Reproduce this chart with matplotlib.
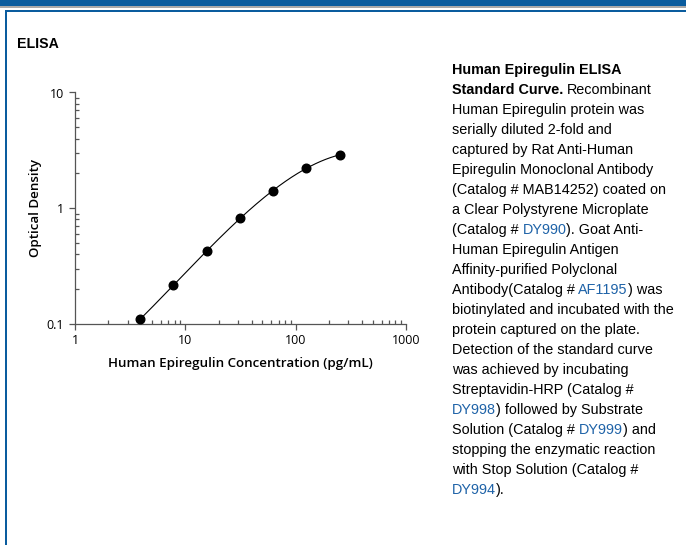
import numpy as np
import matplotlib
matplotlib.use("Agg")
import matplotlib.pyplot as plt
from matplotlib.patches import Rectangle

# ---- data ----
concentration = [3.9, 7.8, 15.6, 31.25, 62.5, 125, 250]          # pg/mL
optical_density = [0.110, 0.217, 0.425, 0.819, 1.42, 2.22, 2.89]
x_ticks = [1, 10, 100, 1000]
x_tick_labels = ["1", "10", "100", "1000"]
y_ticks = [0.1, 1, 10]
y_tick_labels = ["0.1", "1", "10"]
x_label = "Human Epiregulin Concentration (pg/mL)"
y_label = "Optical Density"
section_title = "ELISA"

BLUE_LINK = "#1f63a8"
caption_lines = [
    [("Human Epiregulin ELISA", "black", "bold")],
    [("Standard Curve.", "black", "bold"), (" Recombinant", "black", "normal")],
    [("Human Epiregulin protein was", "black", "normal")],
    [("serially diluted 2-fold and", "black", "normal")],
    [("captured by Rat Anti-Human", "black", "normal")],
    [("Epiregulin Monoclonal Antibody", "black", "normal")],
    [("(Catalog # MAB14252) coated on", "black", "normal")],
    [("a Clear Polystyrene Microplate", "black", "normal")],
    [("(Catalog # ", "black", "normal"), ("DY990", BLUE_LINK, "normal"), ("). Goat Anti-", "black", "normal")],
    [("Human Epiregulin Antigen", "black", "normal")],
    [("Affinity-purified Polyclonal", "black", "normal")],
    [("Antibody(Catalog # ", "black", "normal"), ("AF1195", BLUE_LINK, "normal"), (") was", "black", "normal")],
    [("biotinylated and incubated with the", "black", "normal")],
    [("protein captured on the plate.", "black", "normal")],
    [("Detection of the standard curve", "black", "normal")],
    [("was achieved by incubating", "black", "normal")],
    [("Streptavidin-HRP (Catalog #", "black", "normal")],
    [("DY998", BLUE_LINK, "normal"), (") followed by Substrate", "black", "normal")],
    [("Solution (Catalog # ", "black", "normal"), ("DY999", BLUE_LINK, "normal"), (") and", "black", "normal")],
    [("stopping the enzymatic reaction", "black", "normal")],
    [("with Stop Solution (Catalog #", "black", "normal")],
    [("DY994", BLUE_LINK, "normal"), (").", "black", "normal")],
]

W, H = 686, 545
DPI = 100
fig = plt.figure(figsize=(W / DPI, H / DPI), dpi=DPI)
fig.patch.set_facecolor("white")

def px_rect(x, y, w, h, color):
    fig.add_artist(Rectangle((x / W, 1 - (y + h) / H), w / W, h / H,
                             transform=fig.transFigure, facecolor=color,
                             edgecolor="none", zorder=0))

HEADER_BLUE = "#0a5c9e"
px_rect(0, 0, W, 6, HEADER_BLUE)
px_rect(0, 6, W, 2, "#a9a9a9")
px_rect(5, 10, W - 5, 2, HEADER_BLUE)
px_rect(5, 10, 2, H - 10, HEADER_BLUE)

def fx(x):
    return x / W

def fy(y):
    return 1 - y / H

fig.text(fx(17), fy(48), section_title, fontsize=10.2, fontweight="bold",
         family="Liberation Sans", ha="left", va="baseline")

# ---- chart ----
ax_left, ax_right, ax_top, ax_bottom = 75, 406, 92.5, 324
ax = fig.add_axes([fx(ax_left), fy(ax_bottom), (ax_right - ax_left) / W,
                   (ax_bottom - ax_top) / H])
ax.set_xscale("log")
ax.set_yscale("log")
ax.set_xlim(1, 1000)
ax.set_ylim(0.1, 10)

lx = np.log10(concentration)
ly = np.log10(optical_density)
coef = np.polyfit(lx, ly, 3)
xs = np.linspace(lx[0], lx[-1], 200)
ax.plot(10 ** xs, 10 ** np.polyval(coef, xs), color="black", lw=0.8, zorder=2)
ax.plot(concentration, optical_density, "o", color="black", ms=6.2, zorder=3,
        clip_on=False)

for s in ["top", "right"]:
    ax.spines[s].set_visible(False)
for s in ["left", "bottom"]:
    ax.spines[s].set_color("#555555")
    ax.spines[s].set_linewidth(0.9)

tick_font = "Open Sans"
ax.set_xticks(x_ticks)
ax.set_xticklabels(x_tick_labels, family=tick_font, fontsize=9)
ax.set_yticks(y_ticks)
ax.set_yticklabels(y_tick_labels, family=tick_font, fontsize=9)
ax.tick_params(which="major", direction="out", length=4, width=0.9,
               color="#555555", pad=4)
ax.tick_params(axis="x", which="major", pad=3)
ax.tick_params(which="minor", direction="in", length=3, width=0.9,
               color="#555555")
ax.minorticks_on()
ax.patch.set_alpha(0)

fig.text(fx(240.5), fy(363.5), x_label, family="Open Sans", fontweight="semibold",
         fontsize=9.6, ha="center", va="center")
fig.text(fx(36), fy(208), y_label, family="Open Sans", fontweight="semibold",
         fontsize=9.6, ha="center", va="center", rotation=90)

# ---- caption ----
renderer = fig.canvas.get_renderer()
CAP_FONT = "Liberation Sans"
CAP_SIZE = 10.4

def text_width(s, weight):
    t = fig.text(0, 0, s, family=CAP_FONT, fontsize=CAP_SIZE, fontweight=weight)
    w = t.get_window_extent(renderer).width
    t.remove()
    return w

def cap_text(x, y, s, weight, color, ha):
    fig.text(fx(x), fy(y), s, family=CAP_FONT, fontsize=CAP_SIZE,
             fontweight=weight, color=color, ha=ha, va="baseline")

x0 = 452
base0 = 74
spacing = 20
for i, segs in enumerate(caption_lines):
    y = base0 + spacing * i
    weights = {w for _, _, w in segs}
    if len(weights) > 1:
        bold_txt, _, _ = segs[0]
        reg_txt = segs[1][0].lstrip(" ")
        wb = text_width(bold_txt, "bold")
        sp = text_width("a a", "normal") - text_width("aa", "normal")
        cap_text(x0, y, bold_txt, "bold", segs[0][1], "left")
        cap_text(x0 + wb + sp, y, reg_txt, "normal", segs[1][1], "left")
        continue
    prefix = ""
    for s, color, weight in segs:
        core = s.rstrip(" ")
        # right edge of this segment equals width of the line up to its end
        x_end = x0 + text_width(prefix + core, weight)
        cap_text(x_end, y, core, weight, color, "right")
        prefix += s

fig.savefig("out.png", dpi=DPI, facecolor="white")
